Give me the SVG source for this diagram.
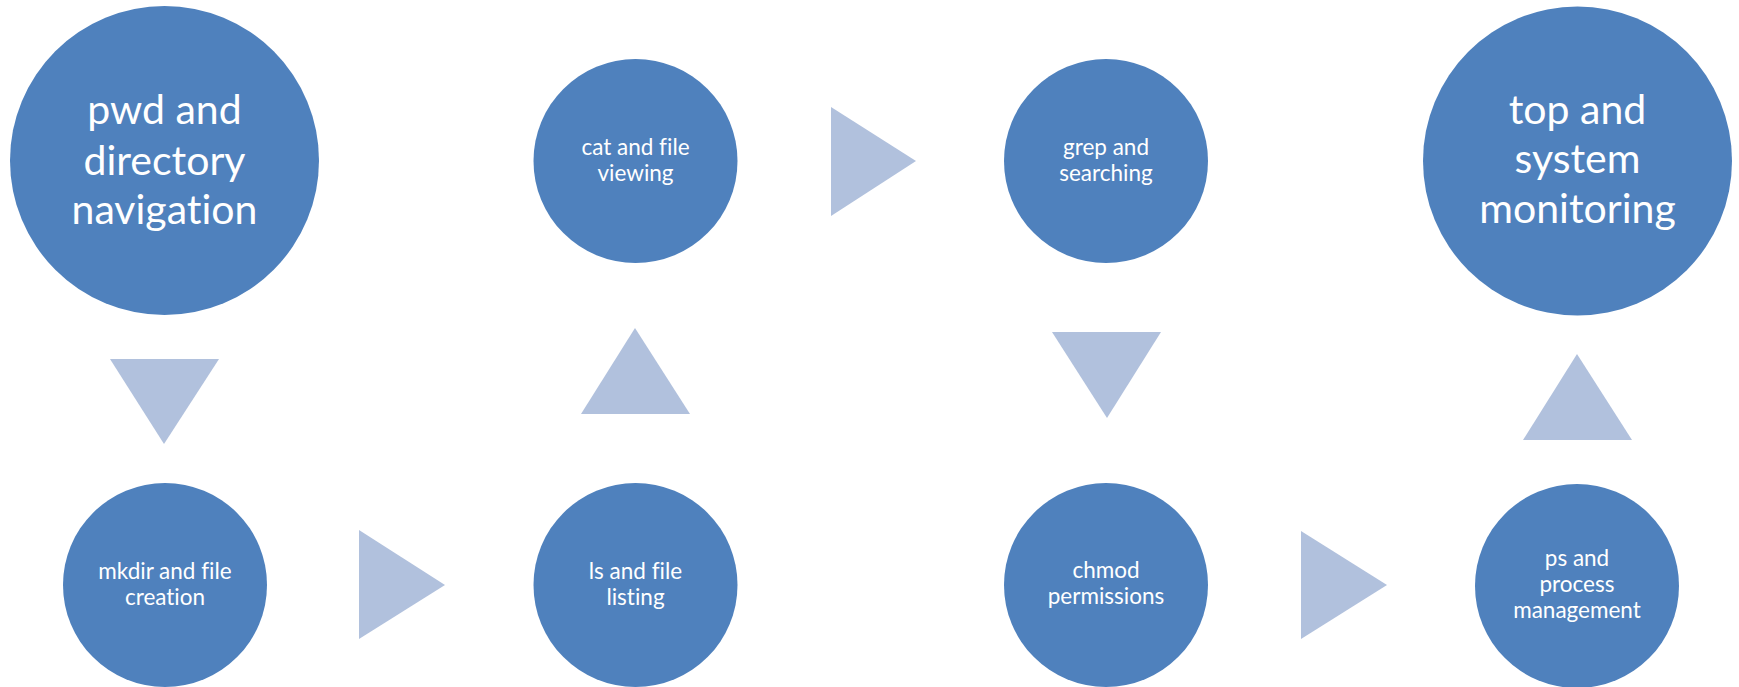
<svg xmlns="http://www.w3.org/2000/svg" width="1739" height="687" viewBox="0 0 1739 687">
  <style>
    .node { fill: #4F81BD; }
    .arrow { fill: #B1C1DD; }
    .lbl { fill: #FFFFFF; font-family: Lato, "Open Sans", "Liberation Sans", sans-serif; text-anchor: middle; font-variant-ligatures: none; }
    .big { font-size: 41px; }
    .small { font-size: 22.5px; }
  </style>
  <rect width="1739" height="687" fill="#FFFFFF"/>

  <!-- step arrows -->
  <g id="connectors">
    <polygon class="arrow" points="110,359 219,359 164,444"/>
    <polygon class="arrow" points="359,530 359,639 445,585"/>
    <polygon class="arrow" points="581,414 690,414 635,328"/>
    <polygon class="arrow" points="831,107 831,216 916,161"/>
    <polygon class="arrow" points="1052,332 1161,332 1107,418"/>
    <polygon class="arrow" points="1301,531 1301,639 1387,585"/>
    <polygon class="arrow" points="1523,440 1632,440 1577,354"/>
  </g>

  <g id="node-pwd">
    <circle class="node" cx="164.5" cy="160.5" r="154.5"/>
    <text class="lbl big" x="164.5" y="124">pwd and</text>
    <text class="lbl big" x="164.5" y="175">directory</text>
    <text class="lbl big" x="164.5" y="224">navigation</text>
  </g>

  <g id="node-mkdir">
    <circle class="node" cx="165" cy="585" r="102"/>
    <text class="lbl small" x="165" y="579">mkdir and file</text>
    <text class="lbl small" x="165" y="605">creation</text>
  </g>

  <g id="node-ls">
    <circle class="node" cx="635.5" cy="585" r="102"/>
    <text class="lbl small" x="635.5" y="579">ls and file</text>
    <text class="lbl small" x="635.5" y="605">listing</text>
  </g>

  <g id="node-cat">
    <circle class="node" cx="635.5" cy="161" r="102"/>
    <text class="lbl small" x="635.5" y="155">cat and file</text>
    <text class="lbl small" x="635.5" y="181">viewing</text>
  </g>

  <g id="node-grep">
    <circle class="node" cx="1106" cy="161" r="102"/>
    <text class="lbl small" x="1106" y="155">grep and</text>
    <text class="lbl small" x="1106" y="181">searching</text>
  </g>

  <g id="node-chmod">
    <circle class="node" cx="1106" cy="585" r="102"/>
    <text class="lbl small" x="1106" y="578">chmod</text>
    <text class="lbl small" x="1106" y="604">permissions</text>
  </g>

  <g id="node-ps">
    <circle class="node" cx="1577" cy="586" r="102"/>
    <text class="lbl small" x="1577" y="566">ps and</text>
    <text class="lbl small" x="1577" y="592">process</text>
    <text class="lbl small" x="1577" y="618">management</text>
  </g>

  <g id="node-top">
    <circle class="node" cx="1577.5" cy="161" r="154.5"/>
    <text class="lbl big" x="1577.5" y="124">top and</text>
    <text class="lbl big" x="1577.5" y="173">system</text>
    <text class="lbl big" x="1577.5" y="223">monitoring</text>
  </g>
</svg>
